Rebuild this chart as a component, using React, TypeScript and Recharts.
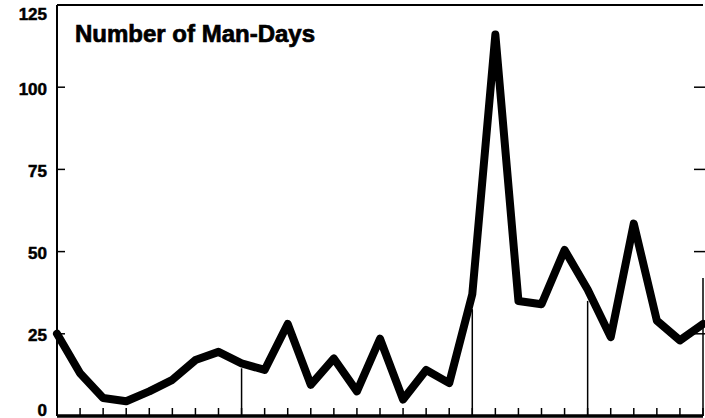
import React from 'react';
import { LineChart, Line, XAxis, YAxis, ReferenceLine } from 'recharts';

// one tick per period along the bottom
const periods = [
  '1', '2', '3', '4', '5', '6', '7', '8', '9', '10',
  '11', '12', '13', '14', '15', '16', '17', '18', '19', '20',
  '21', '22', '23', '24', '25', '26', '27', '28', '29',
];
const manDays = [
  25, 13, 5.5, 4.5, 7.5, 11, 17, 19.5, 16, 14,
  28, 9.5, 17.5, 7.5, 23.5, 5, 14, 10, 37, 116,
  35, 34, 50.5, 38.5, 24, 58.5, 29, 23, 28,
];
const leftTicks = [0, 25, 50, 75, 100, 125];
const rightTicks = [25, 50, 75, 100];

// long thin rules rising from the base line
const rulePeriods = ['9', '19', '24', '29'];
const ruleTops = [14.5, 32.5, 35, 42];

const data = periods.map((period, i) => ({ period, value: manDays[i] }));

const FONT = '"Liberation Sans", Arial, sans-serif';

function LeftTick(props: any) {
  const { x, y, payload } = props;
  const dy = payload.value === 125 ? 9 : payload.value === 0 ? -6 : 2;
  return (
    <g>
      <line x1={x} y1={y} x2={x + 8} y2={y} stroke="#000" strokeWidth={1.5} />
      <text
        x={x - 10}
        y={y + dy}
        textAnchor="end"
        dominantBaseline="central"
        fontFamily={FONT}
        fontWeight={700}
        fontSize={17}
        stroke="#000"
        strokeWidth={0.5}
        fill="#000"
      >
        {payload.value}
      </text>
    </g>
  );
}

// short inward tick on the right frame edge
const RightTick = (props: any) => {
  const { x2, y2 } = props;
  return <line x1={x2 - 9} y1={y2} x2={x2 + 2} y2={y2} stroke="#000" strokeWidth={1.5} />;
};

export default function App() {
  return (
    <div style={{ position: 'absolute', left: 0, top: 0, width: 705, height: 418, background: '#fff' }}>
      <LineChart width={705} height={418} data={data} margin={{ top: 5, right: 2, left: 0, bottom: 2 }}>
        <XAxis
          dataKey="period"
          height={1}
          mirror
          interval={0}
          tickSize={8}
          tickFormatter={() => ''}
          tickLine={{ stroke: '#000', strokeWidth: 1.5 }}
          axisLine={{ stroke: '#000', strokeWidth: 3.5 }}
        />
        <YAxis
          width={57}
          domain={[0, 125]}
          ticks={leftTicks}
          interval={0}
          tickSize={0}
          tickMargin={0}
          tickLine={false}
          tick={<LeftTick />}
          axisLine={{ stroke: '#000', strokeWidth: 2 }}
        />
        <ReferenceLine y={125} stroke="#000" strokeWidth={2} />
        {rightTicks.map((v) => (
          <ReferenceLine key={`rt-${v}`} y={v} shape={RightTick} />
        ))}
        {rulePeriods.map((p, i) => (
          <ReferenceLine
            key={p}
            segment={[{ x: p, y: 0 }, { x: p, y: ruleTops[i] }]}
            stroke="#000"
            strokeWidth={1.5}
          />
        ))}
        <Line
          type="linear"
          dataKey="value"
          stroke="#000"
          strokeWidth={8}
          strokeLinejoin="round"
          strokeLinecap="round"
          dot={false}
          isAnimationActive={false}
        />
        <text
          x={75}
          y={42}
          fontFamily={FONT}
          fontWeight={700}
          fontSize={24}
          stroke="#000"
          strokeWidth={0.7}
          fill="#000"
        >
          Number of Man-Days
        </text>
      </LineChart>
    </div>
  );
}
